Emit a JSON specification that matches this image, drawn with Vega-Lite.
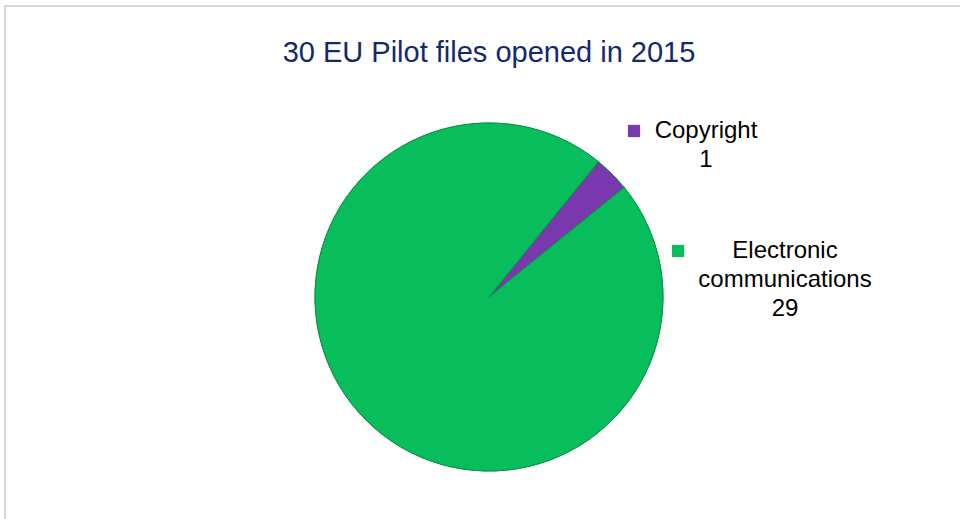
{
  "$schema": "https://vega.github.io/schema/vega-lite/v6.json",
  "width": 968,
  "height": 582,
  "autosize": {"type": "none"},
  "padding": {"left": 5, "top": 6, "right": 0, "bottom": 0},
  "background": "white",
  "view": {"stroke": "#D9D9D9", "strokeWidth": 2, "fill": "white"},
  "config": {"style": {"guide-label": {"lineHeight": 29}}},
  "title": {
    "text": "30 EU Pilot files opened in 2015",
    "offset": -62,
    "fontSize": 29,
    "font": "Liberation Sans",
    "fontWeight": "normal",
    "color": "#14296B"
  },
  "data": {
    "values": [
      {"area": "Copyright", "files": 1},
      {"area": "Electronic communications", "files": 29}
    ]
  },
  "layer": [
    {
      "mark": {"type": "arc", "radius": 174, "stroke": "#0A9447", "strokeWidth": 1},
      "encoding": {
        "theta": {"field": "files", "type": "quantitative", "stack": true, "scale": {"range": [0.68, 6.9632]}},
        "color": {
          "field": "area",
          "type": "nominal",
          "scale": {"domain": ["Copyright", "Electronic communications"], "range": ["#7A38AE", "#08BD5B"]},
          "legend": {
            "values": ["Copyright"],
            "title": null,
            "orient": "none",
            "legendX": 617,
            "legendY": 113,
            "symbolType": "square",
            "symbolSize": 150,
            "symbolStrokeWidth": 0,
            "labelFont": "Liberation Sans",
            "labelFontSize": 24,
            "labelColor": "#000000",
            "labelAlign": "center",
            "labelBaseline": "middle",
            "labelOffset": 60,
            "labelLimit": 0,
            "padding": 0,
            "labelExpr": "['Copyright', '1']"
          }
        }
      }
    },
    {
      "mark": {"type": "arc", "radius": 174, "stroke": "#0A9447", "strokeWidth": 1},
      "encoding": {
        "theta": {"field": "files", "type": "quantitative", "stack": true, "scale": {"range": [0.68, 6.9632]}},
        "color": {
          "field": "area",
          "type": "nominal",
          "scale": {"domain": ["Copyright", "Electronic communications"], "range": ["#7A38AE", "#08BD5B"]},
          "legend": {
            "values": ["Electronic communications"],
            "title": null,
            "orient": "none",
            "legendX": 661,
            "legendY": 233,
            "symbolType": "square",
            "symbolSize": 150,
            "symbolStrokeWidth": 0,
            "labelFont": "Liberation Sans",
            "labelFontSize": 24,
            "labelColor": "#000000",
            "labelAlign": "center",
            "labelBaseline": "middle",
            "labelOffset": 95,
            "labelLimit": 0,
            "padding": 0,
            "labelExpr": "['Electronic', 'communications', '29']"
          }
        }
      }
    }
  ],
  "resolve": {"scale": {"color": "independent"}}
}
